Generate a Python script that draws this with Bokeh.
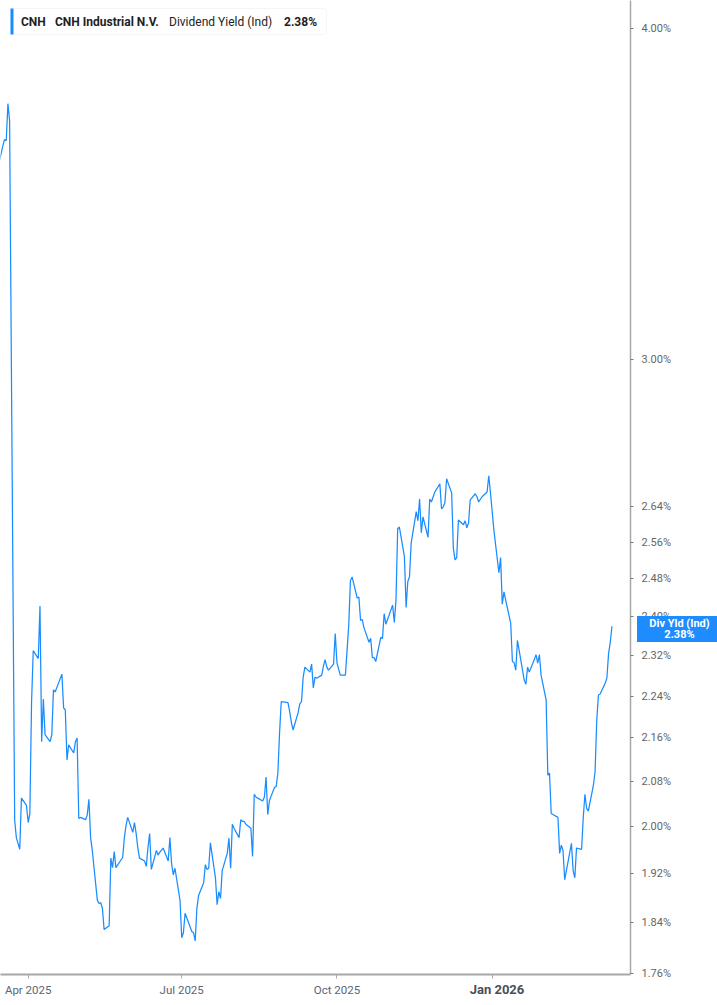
import datetime as dt
import pandas as pd
from bokeh.plotting import figure
from bokeh.layouts import column
from bokeh.models import (Range1d, FixedTicker, PrintfTickFormatter, Label,
                          BoxAnnotation, Div)
from bokeh.embed import file_html
from bokeh.resources import INLINE

# ---------------- data ----------------
TICKER = "CNH"
COMPANY = "CNH Industrial N.V."
METRIC = "Dividend Yield (Ind)"
LAST_LABEL = "2.38%"
BADGE_TITLE = "Div Yld (Ind)"

FIRST_DATE = "2025-03-14"
HOLIDAYS = ["2025-04-18", "2025-05-26", "2025-06-19", "2025-07-04", "2025-09-01",
            "2025-11-27", "2025-12-25", "2026-01-01", "2026-01-19", "2026-02-16"]

# dividend yield (%) per trading day
div_yield = [
    3.541, 3.612, 3.631, 3.628, 3.746, 3.691,
    2.011, 1.981, 1.971, 1.961, 2.050, 2.037, 2.007, 2.023, 2.227, 2.330,
    2.314, 2.422, 2.153, 2.234, 2.166, 2.153, 2.166, 2.252, 2.248, 2.283,
    2.217, 2.213, 2.119, 2.147, 2.132, 2.153, 2.160, 2.014, 2.016, 2.012,
    2.020, 2.048, 1.981, 1.959, 1.876, 1.871, 1.872, 1.863, 1.829, 1.835,
    1.946, 1.930, 1.957, 1.930, 1.947, 1.980, 2.002, 2.016, 1.990, 2.007,
    1.988, 1.963, 1.946, 1.941, 1.932, 1.964, 1.988, 1.927, 1.959, 1.951,
    1.956, 1.963, 1.941, 1.981, 1.937, 1.918, 1.929, 1.876, 1.816, 1.824,
    1.855, 1.826, 1.824, 1.811, 1.863, 1.884,
    1.905, 1.935, 1.927, 1.929, 1.972, 1.913, 1.869, 1.890, 1.879, 1.925,
    1.954, 1.980, 1.929, 2.004, 1.997, 1.981, 2.012, 2.009, 2.009, 2.004,
    1.997, 1.949, 2.057, 2.052, 2.050, 2.045, 2.052, 2.088, 2.021, 2.046,
    2.069, 2.071, 2.095, 2.170, 2.229, 2.227, 2.210, 2.189, 2.175, 2.208,
    2.225, 2.229, 2.277, 2.297, 2.287, 2.303, 2.256, 2.277, 2.275, 2.281,
    2.299, 2.312, 2.297, 2.291, 2.303, 2.365, 2.306, 2.293, 2.281, 2.281,
    2.330, 2.382, 2.476, 2.484, 2.439, 2.441, 2.392, 2.394, 2.377, 2.347,
    2.355, 2.316, 2.316, 2.308, 2.357, 2.355, 2.406, 2.384,
    2.394, 2.424, 2.388, 2.435, 2.590, 2.594, 2.528, 2.419, 2.474, 2.484,
    2.558, 2.629, 2.608, 2.658, 2.581, 2.617, 2.571, 2.658, 2.651, 2.674,
    2.693, 2.635, 2.640, 2.649, 2.705, 2.672, 2.547, 2.521, 2.526, 2.610,
    2.599, 2.608, 2.592, 2.603, 2.656, 2.670, 2.663, 2.651, 2.663, 2.674,
    2.712, 2.672, 2.588, 2.493, 2.526, 2.426, 2.452, 2.435, 2.386, 2.308,
    2.306, 2.291,
    2.351, 2.271, 2.263, 2.297, 2.287, 2.312, 2.322, 2.305, 2.322, 2.281,
    2.232, 2.091, 2.095, 2.023, 2.021, 2.016, 1.954, 1.968, 1.959, 1.910,
    1.971, 1.925, 1.913, 1.963, 1.961, 2.016, 2.057, 2.032, 2.027, 2.073,
    2.097, 2.194, 2.242, 2.244, 2.265, 2.275, 2.324, 2.347, 2.380,
]

y_ticks = [1.76, 1.84, 1.92, 2.00, 2.08, 2.16, 2.24, 2.32, 2.40, 2.48, 2.56, 2.64, 3.00, 4.00]
x_tick_dates = ["2025-04-01", "2025-07-01", "2025-10-01", "2026-01-01"]
x_tick_labels = ["Apr 2025", "Jul 2025", "Oct 2025", "Jan 2026"]
x_tick_bold = [False, False, False, True]

# ---------------- figure ----------------
dates = pd.bdate_range(start=FIRST_DATE, periods=len(div_yield), freq="C",
                       holidays=HOLIDAYS)
dates = [d.to_pydatetime() for d in dates]

LINE = "#1a8cff"
AXIS = "#a8a8a8"
TXT = "#666666"
XTXT = "#5d6474"

p = figure(width=717, height=1005, x_axis_type="datetime", y_axis_type="log",
           y_axis_location="right", output_backend="svg", toolbar_location=None,
           x_range=Range1d(dates[0] + dt.timedelta(days=1.6),
                           dates[-1] + dt.timedelta(days=11)),
           y_range=Range1d(1.759, 4.097),
           min_border_left=0, min_border_top=0, min_border_right=87,
           min_border_bottom=31)
p.outline_line_color = None
p.xgrid.visible = False
p.ygrid.visible = False
p.background_fill_color = "white"
p.border_fill_color = "white"

p.line(dates, div_yield, line_color=LINE, line_width=1.25)

# y axis
ya = p.yaxis[0]
ya.ticker = FixedTicker(ticks=y_ticks, minor_ticks=[])
ya.formatter = PrintfTickFormatter(format="%.2f%%")
ya.axis_line_color = AXIS
ya.axis_line_width = 1.5
ya.major_tick_line_color = "#777777"
ya.major_tick_out = 3
ya.major_tick_in = 0
ya.minor_tick_out = 0
ya.minor_tick_in = 0
ya.major_label_standoff = 8
ya.major_label_text_font = "Roboto"
ya.major_label_text_font_size = "11px"
ya.major_label_text_color = TXT

# x axis
tick_ms = [int(pd.Timestamp(d).timestamp() * 1000) for d in x_tick_dates]
xa = p.xaxis[0]
xa.ticker = FixedTicker(ticks=tick_ms, minor_ticks=[])
xa.major_label_overrides = {ms: ("" if b else lab)
                            for ms, lab, b in zip(tick_ms, x_tick_labels, x_tick_bold)}
xa.axis_line_color = AXIS
xa.axis_line_width = 2
xa.major_tick_line_color = AXIS
xa.major_tick_out = 4
xa.major_tick_in = 0
xa.minor_tick_out = 0
xa.minor_tick_in = 0
xa.major_label_standoff = 4
xa.major_label_text_font = "Roboto"
xa.major_label_text_font_size = "11.5px"
xa.major_label_text_color = XTXT

# header box
p.add_layout(BoxAnnotation(left=10, right=326, top=966, bottom=940,
                           left_units="screen", right_units="screen",
                           top_units="screen", bottom_units="screen",
                           fill_color="white", fill_alpha=1,
                           line_color="#e2e2e2", line_width=1, border_radius=3))
p.add_layout(BoxAnnotation(left=10, right=13, top=966, bottom=940,
                           left_units="screen", right_units="screen",
                           top_units="screen", bottom_units="screen",
                           fill_color=LINE, fill_alpha=1, line_color=None))
for xx, txt, style in [(20.5, TICKER, "bold"), (54.5, COMPANY, "bold"),
                       (168.5, METRIC, "normal"), (283.5, LAST_LABEL, "bold")]:
    p.add_layout(Label(x=xx, y=952.5, x_units="screen", y_units="screen",
                       text=txt, text_baseline="middle", text_font="Roboto",
                       text_font_style=style, text_font_size="12px",
                       text_color="#222222"))

# last-value badge on the right axis (outside the plot frame)
badge = Div(text=f"{BADGE_TITLE}<br>{LAST_LABEL}", width=85, height=26,
            styles={"position": "absolute", "left": "632px", "top": "611px",
                    "background-color": "#1e8cff", "color": "white",
                    "font-family": "Roboto", "font-weight": "bold",
                    "font-size": "11px", "line-height": "11.5px",
                    "text-align": "center", "padding-top": "1.5px",
                    "box-sizing": "border-box"})

# bold "Jan 2026" tick label
bold_divs = []
for d, lab, b in zip(x_tick_dates, x_tick_labels, x_tick_bold):
    if b:
        bold_divs.append(Div(text=lab, width=60, height=16,
                             styles={"position": "absolute", "left": "462px",
                                     "top": "976px", "color": "#4a4f58",
                                     "font-family": "Roboto", "font-weight": "bold",
                                     "font-size": "13px", "text-align": "center"}))

root = column(p, badge, *bold_divs,
              styles={"position": "absolute", "left": "0px", "top": "0px"})

open("out.html", "w").write(file_html(root, INLINE))
